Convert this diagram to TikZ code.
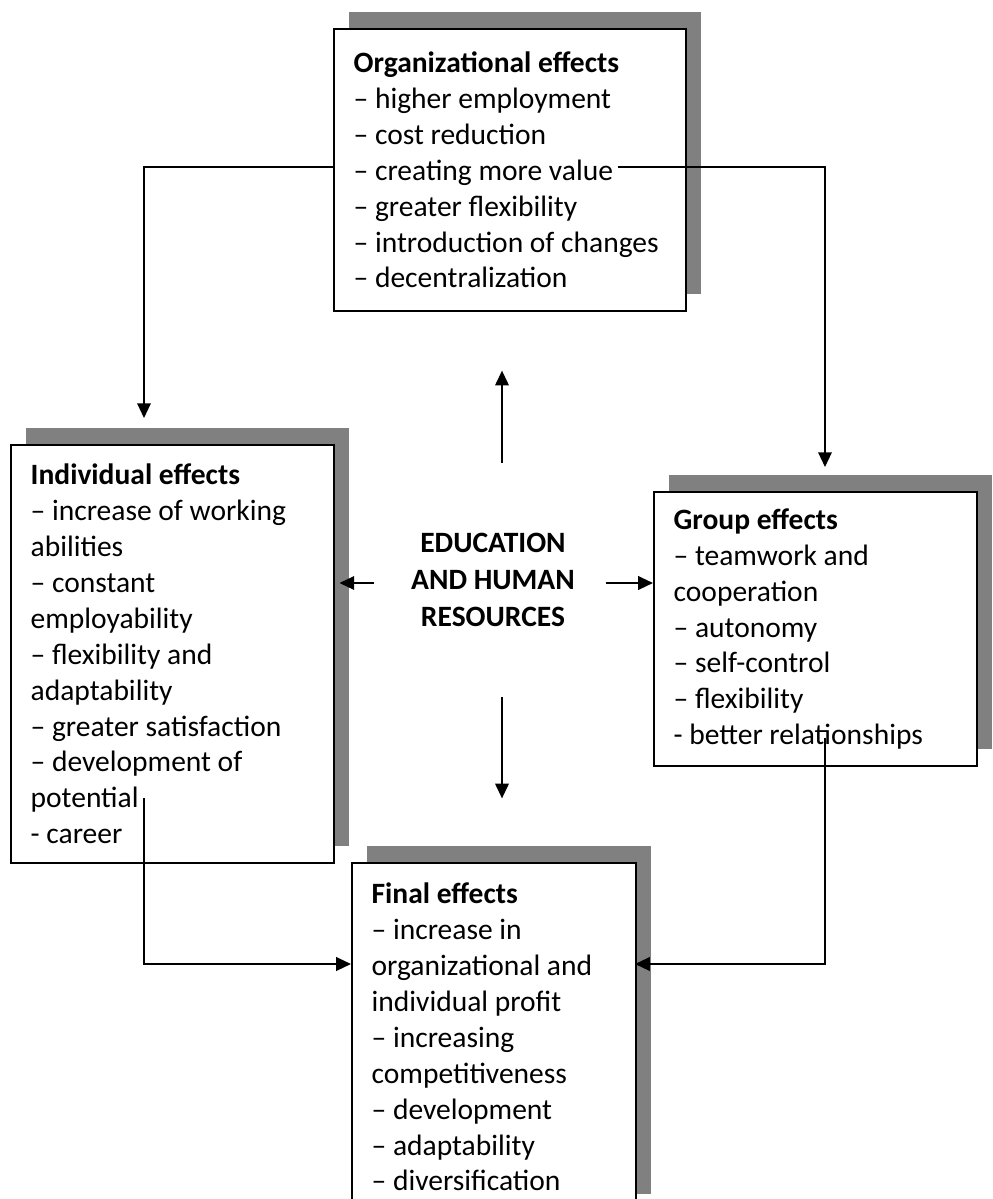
\documentclass[tikz,border=0pt]{standalone}
\usepackage{fontspec}
\setmainfont{Carlito}
\usetikzlibrary{arrows.meta,shadows}

\begin{document}
\begin{tikzpicture}[
			x=0.4065pt, y=-0.4065pt,
			font=\fontsize{12}{14.6}\selectfont,
			effbox/.style={draw, line width=0.8pt, fill=white, anchor=north west, align=flush left, inner xsep=8pt, inner ysep=0pt,
				drop shadow={shadow xshift=6pt, shadow yshift=7pt, fill=black!50, opacity=1}},
			fl/.style={-{Triangle[length=6pt, width=5.5pt]}, line width=0.75pt}
		]
		\useasboundingbox (0,0) rectangle (992,1199);

		\node[effbox, text width=127.1pt, minimum height=114.6pt] (org) at (333,28)
			{\textbf{Organizational effects}\\– higher employment\\– cost reduction\\– creating more value\\– greater flexibility\\– introduction of changes\\– decentralization};
		\node[effbox, text width=115.3pt, minimum height=169.9pt] (indiv) at (10,444)
			{\textbf{Individual effects}\\– increase of working\\abilities\\– constant\\employability\\– flexibility and\\adaptability\\– greater satisfaction\\– development of\\potential\\- career};
		\node[effbox, text width=115.3pt, minimum height=111.4pt] (grp) at (653,491)
			{\textbf{Group effects}\\– teamwork and\\cooperation\\– autonomy\\– self-control\\– flexibility\\- better relationships};
		\node[effbox, text width=99.4pt, minimum height=141.5pt] (fin) at (351,862)
			{\textbf{Final effects}\\– increase in\\organizational and\\individual profit\\– increasing\\competitiveness\\– development\\– adaptability\\– diversification};
		\node[font=\fontsize{12}{15}\selectfont\bfseries, align=center] (edu) at (493,580) {EDUCATION\\AND HUMAN\\RESOURCES};

		% free ends of the connectors
		\coordinate (orgR) at (618,167);
		\coordinate (indT) at (144,418);
		\coordinate (grpT) at (825,467);
		\coordinate (indB) at (144,798);
		\coordinate (grpB) at (825,738);
		\coordinate (finL) at (351,964);
		\coordinate (finR) at (635,964);

		\draw[fl] (org.west |- orgR) -| (indT);
		\draw[fl] (orgR) -| (grpT);
		\draw[fl] (edu.north) ++(9,-62) -- ++(0,-92);
		\draw[fl] (edu.south) ++(9,62) -- ++(0,101);
		\draw[fl] (edu.west) ++(-28,3) -- ++(-35,0);
		\draw[fl] (edu.east) ++(22,3) -- (grp.west |- 0,583);
		\draw[fl] (indB) |- (finL);
		\draw[fl] (grpB) |- (finR);
	\end{tikzpicture}
\end{document}
